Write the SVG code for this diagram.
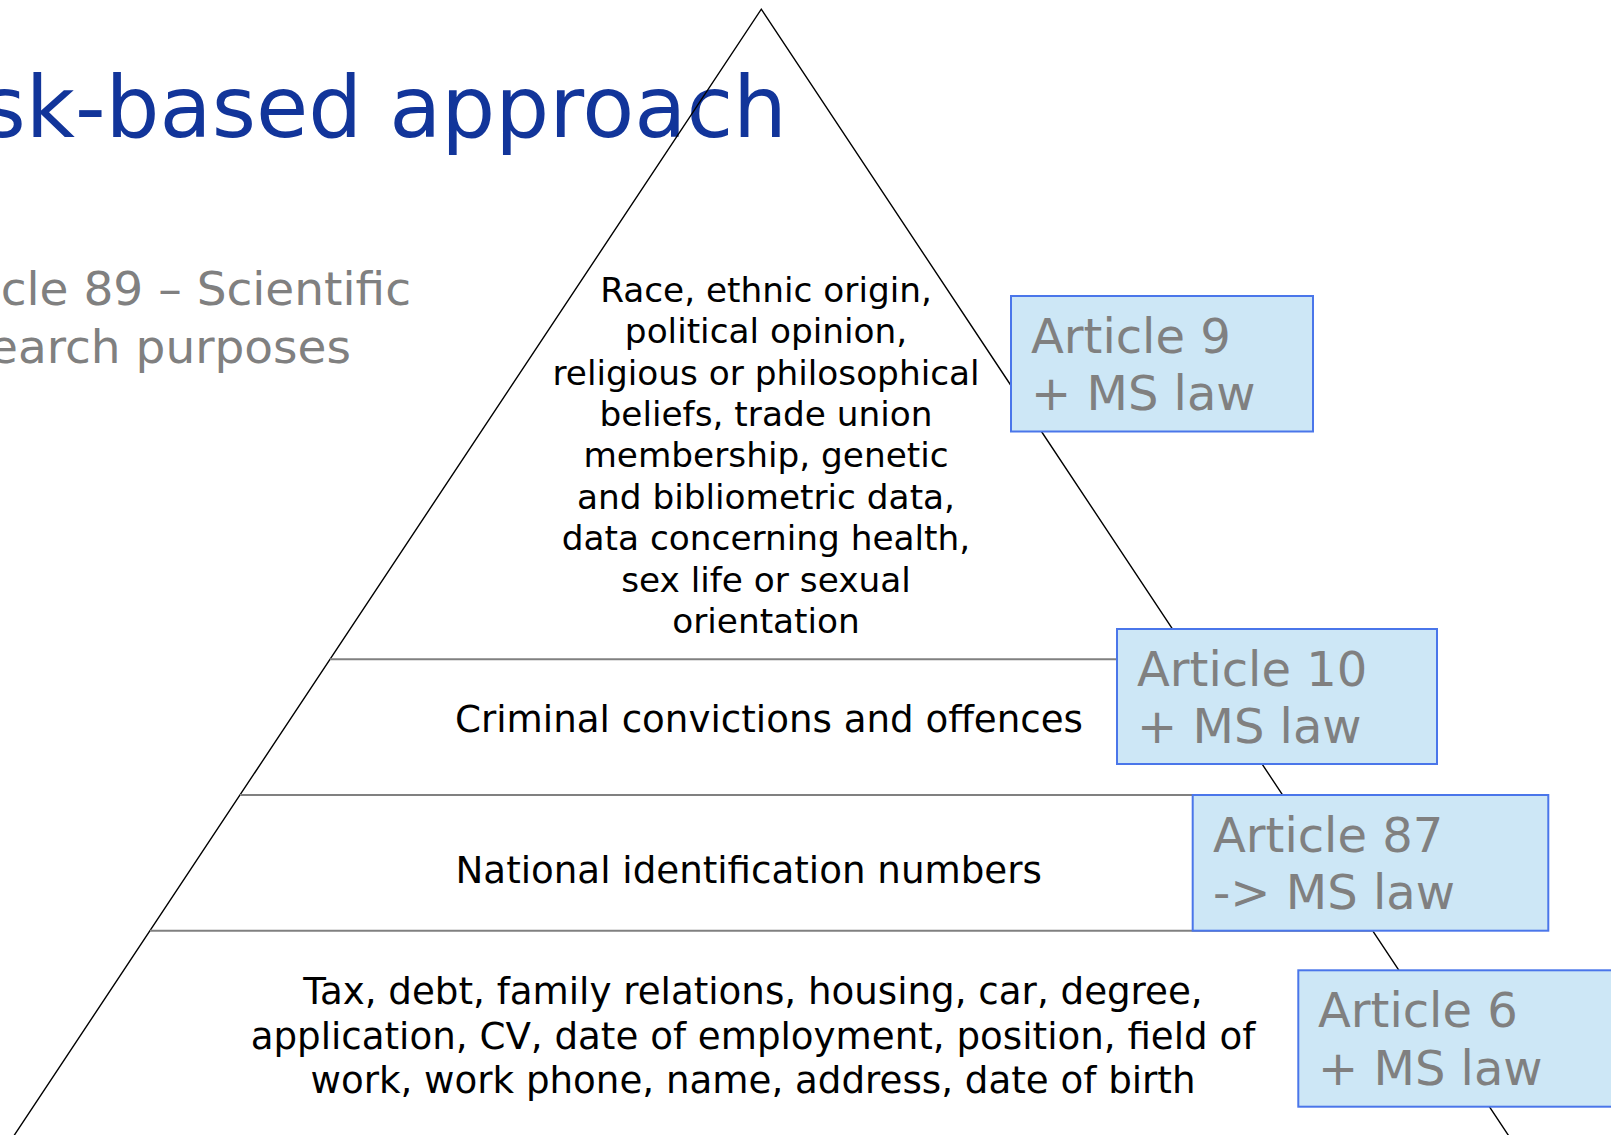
<svg xmlns="http://www.w3.org/2000/svg" width="1611" height="1135" viewBox="0 0 1611 1135">
  <style>
    text { font-family: "DejaVu Sans", Verdana, sans-serif; }
    .title { font-size: 85px; fill: #12359a; text-anchor: end; }
    .sub { font-size: 47px; fill: #808080; text-anchor: end; }
    .tier { fill: #000000; text-anchor: middle; }
    .t34 { font-size: 34.3px; }
    .t37 { font-size: 37.2px; }
    .side { fill: none; stroke: #000000; stroke-width: 1.4; }
    .divider { stroke: #808080; stroke-width: 2; }
    .law rect { fill: #cde7f6; stroke: #4a76ea; stroke-width: 2; }
    .law text { font-size: 48px; fill: #808080; }
  </style>
  <rect width="1611" height="1135" fill="#ffffff"/>

  <!-- heading -->
  <g id="heading">
    <text class="title" x="787" y="136.7">sk-based approach</text>
  </g>

  <!-- subheading -->
  <g id="subheading">
    <text class="sub" x="411" y="305">cle 89 – Scientific</text>
    <text class="sub" x="351" y="362.7">earch purposes</text>
  </g>

  <!-- pyramid outline and tier dividers -->
  <g id="connectors">
    <polyline class="side" points="11.1,1140 761.3,9.2 1511.5,1140"/>
    <line class="divider" x1="330" y1="659.3" x2="1193" y2="659.3"/>
    <line class="divider" x1="240" y1="795" x2="1283" y2="795"/>
    <line class="divider" x1="150" y1="930.7" x2="1374" y2="930.7"/>
  </g>

  <!-- tier 1: special categories -->
  <g id="tier-special">
    <text class="tier t34" x="766" y="301.7">Race, ethnic origin,</text>
    <text class="tier t34" x="766" y="343.1">political opinion,</text>
    <text class="tier t34" x="766" y="384.5">religious or philosophical</text>
    <text class="tier t34" x="766" y="425.9">beliefs, trade union</text>
    <text class="tier t34" x="766" y="467.3">membership, genetic</text>
    <text class="tier t34" x="766" y="508.7">and bibliometric data,</text>
    <text class="tier t34" x="766" y="550.1">data concerning health,</text>
    <text class="tier t34" x="766" y="591.5">sex life or sexual</text>
    <text class="tier t34" x="766" y="632.9">orientation</text>
  </g>

  <!-- tier 2: criminal data -->
  <g id="tier-criminal">
    <text class="tier t37" x="769" y="731.7">Criminal convictions and offences</text>
  </g>

  <!-- tier 3: national identifiers -->
  <g id="tier-national">
    <text class="tier t37" x="748.7" y="883.3">National identification numbers</text>
  </g>

  <!-- tier 4: ordinary personal data -->
  <g id="tier-ordinary">
    <text class="tier t37" x="753" y="1004">Tax, debt, family relations, housing, car, degree,</text>
    <text class="tier t37" x="753" y="1049">application, CV, date of employment, position, field of</text>
    <text class="tier t37" x="753" y="1093.3">work, work phone, name, address, date of birth</text>
  </g>

  <!-- legal basis boxes -->
  <g id="article-9" class="law">
    <rect x="1011" y="296" width="302" height="135.5"/>
    <text x="1031" y="352.7">Article 9</text>
    <text x="1031" y="410.2">+ MS law</text>
  </g>
  <g id="article-10" class="law">
    <rect x="1117" y="629" width="320" height="135"/>
    <text x="1137" y="685.7">Article 10</text>
    <text x="1137" y="743.2">+ MS law</text>
  </g>
  <g id="article-87" class="law">
    <rect x="1192.7" y="795" width="355.6" height="135.7"/>
    <text x="1213" y="851.7">Article 87</text>
    <text x="1213" y="909.2">-&gt; MS law</text>
  </g>
  <g id="article-6" class="law">
    <rect x="1298.3" y="970.3" width="330" height="136.4"/>
    <text x="1318" y="1027">Article 6</text>
    <text x="1318" y="1084.5">+ MS law</text>
  </g>
</svg>
